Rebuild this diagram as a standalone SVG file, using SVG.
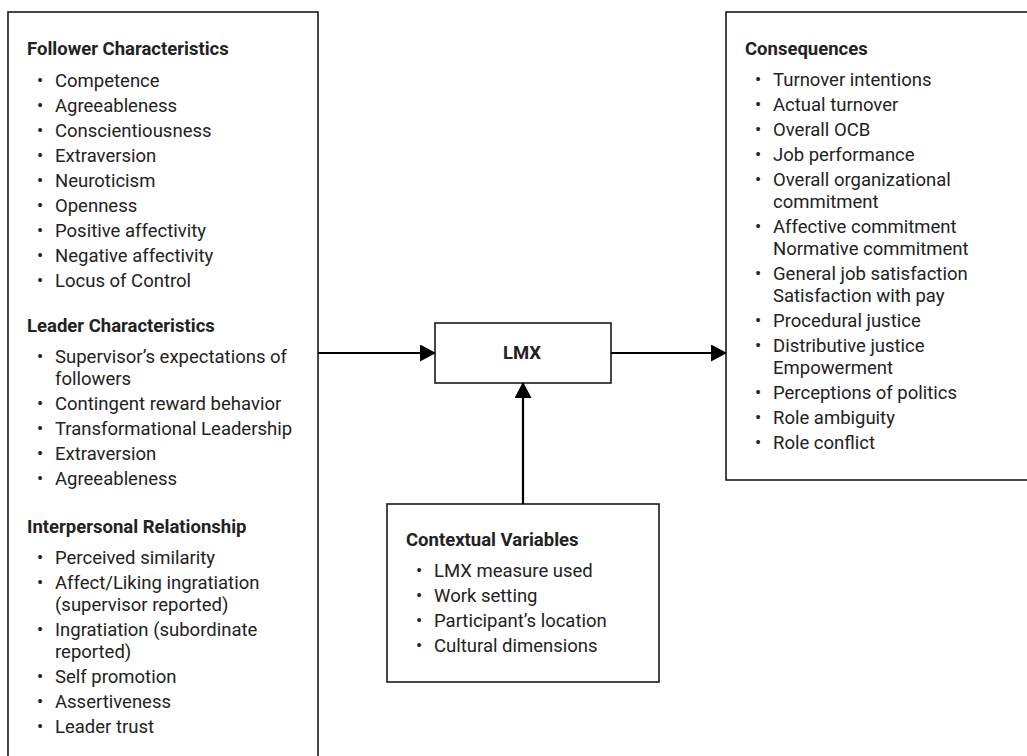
<svg xmlns="http://www.w3.org/2000/svg" width="1027" height="756" viewBox="0 0 1027 756">
<style>
.box{fill:#fff;stroke:#1a1a1a;stroke-width:1.6}
.t{font-family:Roboto,"Liberation Sans",sans-serif;font-size:18.5px;fill:#222}
.h{font-weight:bold}
.conn{stroke:#000;stroke-width:2.2;fill:none}
</style>
<defs>
<marker id="arr" viewBox="0 0 16 17" refX="15" refY="8.5" markerWidth="16" markerHeight="17" orient="auto" markerUnits="userSpaceOnUse">
<path d="M0,0 L16,8.5 L0,17 z" fill="#000"/>
</marker>
</defs>
<rect width="1027" height="756" fill="#fff"/>

<g id="antecedents">
<rect class="box" x="8" y="12" width="310" height="760"/>
<text class="t h" x="27" y="54.5">Follower Characteristics</text>
<g class="t">
<text x="37" y="86.5">•</text><text x="55" y="86.5">Competence</text>
<text x="37" y="111.5">•</text><text x="55" y="111.5">Agreeableness</text>
<text x="37" y="136.5">•</text><text x="55" y="136.5">Conscientiousness</text>
<text x="37" y="161.5">•</text><text x="55" y="161.5">Extraversion</text>
<text x="37" y="186.5">•</text><text x="55" y="186.5">Neuroticism</text>
<text x="37" y="211.5">•</text><text x="55" y="211.5">Openness</text>
<text x="37" y="236.5">•</text><text x="55" y="236.5">Positive affectivity</text>
<text x="37" y="261.5">•</text><text x="55" y="261.5">Negative affectivity</text>
<text x="37" y="286.5">•</text><text x="55" y="286.5">Locus of Control</text>
</g>
<text class="t h" x="27" y="332">Leader Characteristics</text>
<g class="t">
<text x="37" y="363">•</text><text x="55" y="363">Supervisor’s expectations of</text>
<text x="55" y="385">followers</text>
<text x="37" y="410">•</text><text x="55" y="410">Contingent reward behavior</text>
<text x="37" y="435">•</text><text x="55" y="435">Transformational Leadership</text>
<text x="37" y="460">•</text><text x="55" y="460">Extraversion</text>
<text x="37" y="485">•</text><text x="55" y="485">Agreeableness</text>
</g>
<text class="t h" x="27" y="532.5">Interpersonal Relationship</text>
<g class="t">
<text x="37" y="563.5">•</text><text x="55" y="563.5">Perceived similarity</text>
<text x="37" y="588.5">•</text><text x="55" y="588.5">Affect/Liking ingratiation</text>
<text x="55" y="610.5">(supervisor reported)</text>
<text x="37" y="635.5">•</text><text x="55" y="635.5">Ingratiation (subordinate</text>
<text x="55" y="657.5">reported)</text>
<text x="37" y="682.5">•</text><text x="55" y="682.5">Self promotion</text>
<text x="37" y="707.5">•</text><text x="55" y="707.5">Assertiveness</text>
<text x="37" y="732.5">•</text><text x="55" y="732.5">Leader trust</text>
</g>
</g>

<g id="lmx">
<rect class="box" x="435" y="323" width="176" height="60"/>
<text class="t h" x="522" y="358.5" text-anchor="middle">LMX</text>
</g>

<g id="consequences">
<rect class="box" x="726" y="12" width="310" height="468"/>
<text class="t h" x="745" y="54.5">Consequences</text>
<g class="t">
<text x="755" y="86">•</text><text x="773" y="86">Turnover intentions</text>
<text x="755" y="111">•</text><text x="773" y="111">Actual turnover</text>
<text x="755" y="136">•</text><text x="773" y="136">Overall OCB</text>
<text x="755" y="161">•</text><text x="773" y="161">Job performance</text>
<text x="755" y="186">•</text><text x="773" y="186">Overall organizational</text>
<text x="773" y="208">commitment</text>
<text x="755" y="233">•</text><text x="773" y="233">Affective commitment</text>
<text x="773" y="255">Normative commitment</text>
<text x="755" y="280">•</text><text x="773" y="280">General job satisfaction</text>
<text x="773" y="302">Satisfaction with pay</text>
<text x="755" y="327">•</text><text x="773" y="327">Procedural justice</text>
<text x="755" y="352">•</text><text x="773" y="352">Distributive justice</text>
<text x="773" y="374">Empowerment</text>
<text x="755" y="399">•</text><text x="773" y="399">Perceptions of politics</text>
<text x="755" y="424">•</text><text x="773" y="424">Role ambiguity</text>
<text x="755" y="449">•</text><text x="773" y="449">Role conflict</text>
</g>
</g>

<g id="contextual">
<rect class="box" x="387" y="504" width="272" height="178"/>
<text class="t h" x="406" y="545.5">Contextual Variables</text>
<g class="t">
<text x="416" y="576.5">•</text><text x="434" y="576.5">LMX measure used</text>
<text x="416" y="601.5">•</text><text x="434" y="601.5">Work setting</text>
<text x="416" y="626.5">•</text><text x="434" y="626.5">Participant’s location</text>
<text x="416" y="651.5">•</text><text x="434" y="651.5">Cultural dimensions</text>
</g>
</g>

<g id="connectors">
<line class="conn" x1="318" y1="353" x2="435" y2="353" marker-end="url(#arr)"/>
<line class="conn" x1="611" y1="353" x2="726" y2="353" marker-end="url(#arr)"/>
<line class="conn" x1="523" y1="504" x2="523" y2="383" marker-end="url(#arr)"/>
</g>
</svg>
